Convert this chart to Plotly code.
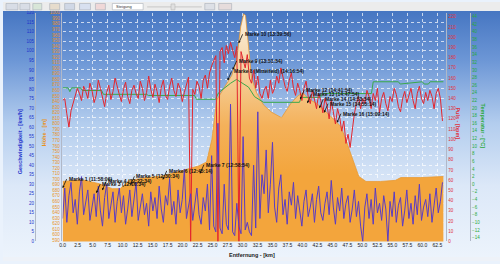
import base64
import numpy as np
import plotly.graph_objects as go

# ---------------- data ----------------
STEP = 0.35  # km between samples of speed / heart rate

elev_km = [0.0, 1.7, 3.3, 6.1, 8.3, 9.6, 11.1, 14.1, 16.6, 20.4, 22.7, 24.0, 24.9, 25.7,
           26.9, 28.2, 29.0, 29.7, 30.2, 30.5, 31.0, 31.5, 32.3, 33.5, 34.8, 36.5, 38.1,
           39.3, 40.1, 41.1, 42.3, 43.6, 45.3, 46.4, 47.2, 48.4, 49.4, 50.6, 53.0, 55.5,
           56.4, 59.7, 63.5]
elev_m = [696, 698, 699, 692, 683, 683, 698, 703, 706, 717, 724, 731, 772, 843,
          864, 887, 913, 975, 998, 995, 940, 883, 857, 834, 821, 811, 837,
          851, 855, 844, 837, 825, 807, 795, 772, 737, 705, 696, 696, 698,
          703, 703, 705]

speed = [12, 28, 10, 24, 31, 15, 22, 9, 26, 34, 14, 20, 27, 11, 18, 25, 13, 29, 16, 8,
         23, 30, 12, 19, 26, 10, 21, 28, 15, 24, 9, 17, 27, 13, 22, 31, 11, 18, 25, 14,
         20, 8, 26, 16, 23, 12, 29, 17, 10, 24, 19, 33, 14, 21, 9, 27, 15, 22, 38, 12,
         18, 25, 11, 20, 28, 14, 9, 23, 16, 30,
         6, 45, 8, 5, 62, 7, 4, 30, 9, 6, 72, 5, 3, 20, 8, 4, 55, 6, 10, 5,
         3, 40, 7, 68, 12, 35,
         25, 48, 15, 30, 52, 18, 10, 28, 35, 14, 22, 9, 26, 19, 31, 12, 24, 16, 8, 21,
         27, 13, 18, 25, 10, 22, 29, 15, 11, 20, 26, 14, 32, 18, 9, 23, 16, 28, 12, 20,
         24, 10, 17, 27, 13, 21, 8,
         0, 18, 25, 12, 22, 9, 28, 15, 20, 11, 24, 17, 0, 21, 13, 26, 10, 19, 23, 8,
         16, 27, 12, 20, 9, 24, 14, 30, 11, 18, 22, 13, 25, 10, 19, 28, 15, 21, 31]

heart = [138, 140, 125, 112, 128, 135, 142, 150, 145, 138, 152, 147, 140, 155, 148, 136,
         143, 158, 150, 141, 132, 146, 153, 139, 147, 160, 151, 144, 137, 149, 156, 142,
         135, 148, 153, 145, 140, 157, 150, 138, 146, 162, 149, 141, 154, 147, 136, 151,
         158, 143, 139, 152, 160, 148, 142, 155, 150, 137, 146, 153, 161, 0, 149, 144,
         157, 152, 140, 158, 163, 150,
         165, 172, 178, 182, 0, 186, 190, 175, 192, 184, 195, 188, 180, 191, 0, 186,
         178, 170, 183, 160, 155, 168, 150, 162, 145, 140,
         148, 152, 140, 158, 145, 150, 162, 155, 170, 160, 152, 147, 158, 165, 150, 143,
         155, 148, 138, 150, 157, 142, 135, 148, 140, 130, 145, 138, 126, 140, 133, 120,
         138, 128, 115, 130, 122, 108, 118, 96, 105, 92, 110, 125, 135, 142, 130,
         140, 135, 148, 142, 130, 145, 138, 150, 126, 140, 146, 135, 128, 142, 137, 150,
         144, 132, 127, 140, 147, 136, 142, 150, 138, 130, 145, 152, 140, 135, 146, 138,
         148, 142, 130, 145, 150, 140, 118]

temp_km = [0.0, 0.9, 1.2, 1.5, 3.0, 3.3, 6.5, 6.8, 14.0, 14.3, 22.0, 22.3, 25.5, 26.0,
           28.0, 29.0, 31.0, 32.0, 33.5, 39.5, 39.8, 43.0, 43.3, 51.5, 51.8, 56.0, 56.3,
           60.0, 60.3, 61.0, 61.3, 63.5]
temp_c = [25.3, 25.3, 24.3, 25.3, 25.3, 24.6, 24.6, 23.6, 23.6, 23.3, 23.3, 22.3, 22.3, 24.0,
          26.5, 27.5, 25.5, 23.0, 21.5, 21.5, 22.8, 22.8, 23.8, 23.8, 26.9, 26.9, 26.3,
          26.9, 26.3, 26.3, 26.9, 26.9]

# lap markers: distance (km) and height (m) of the arrow tip
marker_km = [0.0, 5.6, 6.6, 11.3, 16.7, 22.9, 27.5, 28.35, 29.35, 39.6, 40.8, 42.8, 43.6, 45.75]
marker_m = [684, 675, 680, 689, 699, 710, 878, 897, 945, 844, 837, 828, 820, 802]
marker_txt = ["Marke 1 (11:58:06)", "Marke 3 (12:16:34)", "Marke 4 (12:22:34)",
              "Marke 5 (12:30:34)", "Marke 6 (12:45:14)", "Marke 7 (12:58:54)",
              "Marke 8 (Mittelfeld) (14:16:54)", "Marke 9 (13:51:54)", "Marke 10 (13:39:56)",
              "Marke 12 (14:41:54)", "Marke 13 (14:47:54)", "Marke 14 (14:53:54)",
              "Marke 15 (14:55:14)", "Marke 16 (15:09:14)"]

x_ticks = [0.0, 2.5, 5.0, 7.5, 10.0, 12.5, 15.0, 17.5, 20.0, 22.5, 25.0, 27.5, 30.0,
           32.5, 35.0, 37.5, 40.0, 42.5, 45.0, 47.5, 50.0, 52.5, 55.0, 57.5, 60.0, 62.5]

# ---------------- figure ----------------
W, H = 500, 264
FONT = "Liberation Sans"

def px(x):
    return x / W

def py(y):  # y in pixels from top
    return 1 - y / H

km_speed = [i * STEP for i in range(len(speed))]
km_heart = [i * STEP for i in range(len(heart))]

fig = go.Figure()

fig.add_trace(go.Scatter(
    x=elev_km, y=elev_m, yaxis="y", mode="lines", fill="tozeroy",
    line=dict(color="#e99a35", width=0.8),
    fillgradient=dict(type="vertical", start=715, stop=1000,
                      colorscale=[[0, "#f3a53c"], [0.3, "#f4b15a"], [0.65, "#f5d3a2"], [1, "#fbf1e1"]]),
    hoverinfo="skip"))
fig.add_trace(go.Scatter(x=temp_km, y=temp_c, yaxis="y2", mode="lines",
                         line=dict(color="#3aa84a", width=1), hoverinfo="skip"))
fig.add_trace(go.Scatter(x=km_heart, y=heart, yaxis="y3", mode="lines",
                         line=dict(color="#e3262e", width=1), hoverinfo="skip"))
fig.add_trace(go.Scatter(x=km_speed, y=speed, yaxis="y4", mode="lines",
                         line=dict(color="#5a3cc4", width=1), hoverinfo="skip"))

PLOT_L, PLOT_R, PLOT_T, PLOT_B = 60, 444, 11, 244
dom_y = [py(PLOT_B), py(PLOT_T)]

def tickfmt(v):
    return f"{v:.1f}"

fig.update_layout(
    width=W, height=H, margin=dict(l=0, r=0, t=0, b=0),
    paper_bgcolor="#eaf2fc", plot_bgcolor="rgba(0,0,0,0)", showlegend=False,
    font=dict(family=FONT, size=5),
    xaxis=dict(domain=[px(PLOT_L), px(PLOT_R)], range=[0, (PLOT_R - PLOT_L) / 6.032],
               tickvals=x_ticks, ticktext=[tickfmt(v) for v in x_ticks],
               tickfont=dict(size=5, color="#222222"), ticks="", ticklen=0,
               showgrid=True, gridcolor="rgba(255,255,255,0.7)", griddash="dot", gridwidth=1,
               zeroline=False, showline=False),
    yaxis=dict(domain=dom_y, range=[588, 1000], anchor="free", position=px(58), side="left",
               dtick=10, tickfont=dict(size=4.5, color="#e8921c"), showgrid=False,
               zeroline=False, showline=True, linecolor="#b0b8c8", linewidth=1, ticks=""),
    yaxis2=dict(domain=dom_y, range=[-15, 45], overlaying="y", anchor="free", position=px(470),
                side="right", dtick=2, tickfont=dict(size=4.5, color="#2aaa3a"), showgrid=False,
                zeroline=False, showline=True, linecolor="#b0b8c8", linewidth=1, ticks=""),
    yaxis3=dict(domain=dom_y, range=[0, 224], overlaying="y", anchor="free", position=px(446),
                side="right", dtick=10, tickfont=dict(size=4.5, color="#e0303a"), showgrid=False,
                zeroline=False, showline=True, linecolor="#b0b8c8", linewidth=1, ticks=""),
    yaxis4=dict(domain=dom_y, range=[0, 120], overlaying="y", anchor="free", position=px(32),
                side="left", dtick=5, tickfont=dict(size=4.5, color="#2233cc"),
                showgrid=True, gridcolor="rgba(255,255,255,0.7)", griddash="dot", gridwidth=1,
                zeroline=False, showline=True, linecolor="#b0b8c8", linewidth=1, ticks=""),
)

# background gradient (chart area below the toolbar)
svg = ("<svg xmlns='http://www.w3.org/2000/svg' width='500' height='255' preserveAspectRatio='none'>"
       "<defs><linearGradient id='g' x1='0' y1='0' x2='0' y2='1'>"
       "<stop offset='0' stop-color='#4676c2'/><stop offset='0.2' stop-color='#6d97d6'/>"
       "<stop offset='0.45' stop-color='#b3cdee'/><stop offset='0.7' stop-color='#dce8f8'/>"
       "<stop offset='1' stop-color='#edf4fc'/></linearGradient></defs>"
       "<rect width='500' height='255' fill='url(#g)'/></svg>")
src = "data:image/svg+xml;base64," + base64.b64encode(svg.encode()).decode()
fig.add_layout_image(dict(source=src, xref="paper", yref="paper", x=0, y=py(9),
                          sizex=1, sizey=py(9) - py(264), sizing="stretch",
                          xanchor="left", yanchor="top", layer="below"))

shapes = []
# toolbar
shapes.append(dict(type="rect", xref="paper", yref="paper", x0=0, x1=1, y0=py(9), y1=1,
                   fillcolor="#ececec", line=dict(width=0), layer="above"))
for (a, b, c) in [(3, 15, "#d8dde6"), (17, 27, "#d8dde6"), (30, 39, "#d8e6d8"), (47, 57, "#e6dccc"),
                  (62, 72, "#d0d8e6"), (77, 88, "#d8e0f0"), (93, 103, "#f0d8d8"), (203, 213, "#dde0e6"),
                  (217, 230, "#e6dcdc")]:
    shapes.append(dict(type="rect", xref="paper", yref="paper", x0=px(a), x1=px(b), y0=py(8), y1=py(1.5),
                       fillcolor=c, line=dict(color="#a8aeb8", width=0.6), layer="above"))
shapes.append(dict(type="rect", xref="paper", yref="paper", x0=px(110), x1=px(141), y0=py(8), y1=py(1.5),
                   fillcolor="#ffffff", line=dict(color="#a8aeb8", width=0.6), layer="above"))
shapes.append(dict(type="line", xref="paper", yref="paper", x0=px(145), x1=px(200), y0=py(5), y1=py(5),
                   line=dict(color="#c8c8c8", width=1), layer="above"))
shapes.append(dict(type="rect", xref="paper", yref="paper", x0=px(169), x1=px(173), y0=py(8), y1=py(2),
                   fillcolor="#e0e0e0", line=dict(color="#b0b0b0", width=0.5), layer="above"))
# bottom strip
shapes.append(dict(type="rect", xref="paper", yref="paper", x0=0, x1=1, y0=0, y1=py(260),
                   fillcolor="#eef2f8", line=dict(width=0), layer="above"))
fig.update_layout(shapes=shapes)

ann = []
ann.append(dict(text="Steigung", xref="paper", yref="paper", x=px(112), y=py(5), xanchor="left",
                yanchor="middle", showarrow=False, font=dict(size=4, color="#333")))
# axis titles
ann.append(dict(text="<b>Geschwindigkeit - [km/h]</b>", xref="paper", yref="paper", x=px(12), y=py(142),
                textangle=-90, showarrow=False, font=dict(size=5.5, color="#2233cc")))
ann.append(dict(text="<b>Höhe - [m]</b>", xref="paper", yref="paper", x=px(37), y=py(133),
                textangle=-90, showarrow=False, font=dict(size=5.5, color="#e8921c")))
ann.append(dict(text="<b>Puls - [bpm]</b>", xref="paper", yref="paper", x=px(463), y=py(124),
                textangle=90, showarrow=False, font=dict(size=5.5, color="#e0303a")))
ann.append(dict(text="<b>Temperatur - [°C]</b>", xref="paper", yref="paper", x=px(488), y=py(126),
                textangle=90, showarrow=False, font=dict(size=5.5, color="#2aaa3a")))
ann.append(dict(text="<b>Entfernung - [km]</b>", xref="paper", yref="paper", x=px(251), y=py(257.5),
                yanchor="middle", showarrow=False, font=dict(size=5.5, color="#222")))
# markers
for k, m, t in zip(marker_km, marker_m, marker_txt):
    ann.append(dict(text="<b>" + t + "</b>", x=k, y=m, xref="x", yref="y",
                    showarrow=True, ax=4, ay=-9, xanchor="left", yanchor="middle",
                    arrowhead=2, arrowsize=0.6, arrowwidth=0.8, arrowcolor="#111",
                    font=dict(size=5, color="#111")))
fig.update_layout(annotations=ann)

fig.write_html("out.html")
